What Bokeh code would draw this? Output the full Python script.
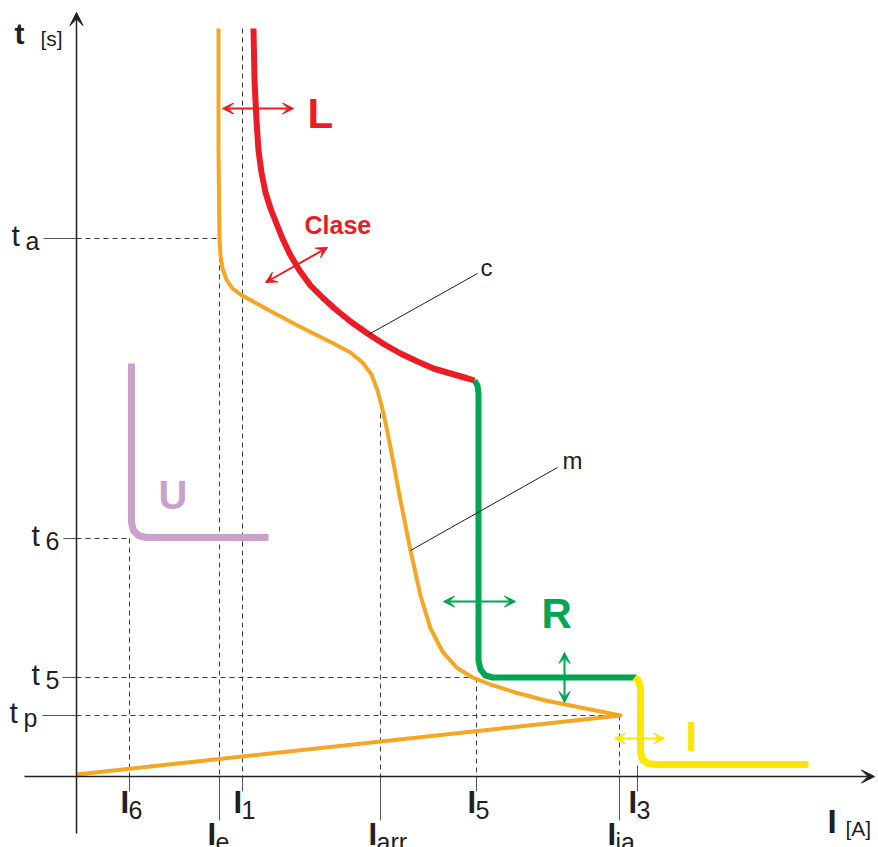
from bokeh.plotting import figure
from bokeh.models import Range1d, Arrow, VeeHead
from bokeh.core.properties import value
from bokeh.embed import file_html
from bokeh.resources import INLINE

# ---------------- data (schematic I-t plane, y grows downward) ----------------
x_tick_sub = ["6", "e", "1", "arr", "5", "ia", "3"]
x_tick_vals = [129, 219, 242, 380, 476, 619, 637]
x_tick_long = [False, True, False, True, False, True, False]

y_tick_sub = ["a", "6", "5", "p"]
y_tick_vals = [238, 538, 677, 715]

# motor starting curve "m"
m_x = [218, 218, 219, 220, 222, 226, 232, 240, 267, 299, 333, 350, 362, 371, 377,
       381, 385, 390, 400, 410, 420, 430, 442, 456, 472, 490, 515, 545, 580, 620, 76]
m_y = [28, 150, 238, 255, 268, 279, 288, 294, 309, 326, 343, 352, 362, 374, 390,
       405, 422, 447, 500, 550, 595, 628, 651, 667, 677, 684, 692, 700, 707, 715, 774]

# protection curve: L (long delay, red), R (short delay, green), I (instantaneous, yellow)
L_x = [253, 254, 256, 258, 261, 265, 270, 276, 282, 289, 299, 310, 322, 334, 350,
       367, 384, 400, 417, 433, 450, 464, 474]
L_y = [28, 80, 120, 150, 172, 192, 208, 223, 238, 253, 270, 285, 297, 308, 321,
       333, 344, 353, 361, 368, 373, 377, 380]
R_x = [474, 477, 478, 478, 480, 485, 492, 636]
R_y = [380, 385, 393, 660, 669, 675, 677, 677]
I_x = [634, 638, 640, 640, 642, 647, 655, 808]
I_y = [677, 680, 688, 752, 759, 763, 764, 764]
# undervoltage "U"
U_x = [131, 131, 133, 138, 146, 268]
U_y = [363, 522, 530, 535, 537, 537]

# ---------------- figure ----------------
FONT = "Liberation Sans"
p = figure(width=878, height=847, x_range=Range1d(0, 878), y_range=Range1d(847, 0),
           output_backend="svg", toolbar_location=None,
           x_axis_location=None, y_axis_location=None, min_border=0)
p.grid.visible = False
p.outline_line_color = None
p.background_fill_color = "white"
p.border_fill_color = "white"

ORIGIN_X, ORIGIN_Y = 76, 776
TOP_Y = 28
DASH = "5 4"
GUIDE = "#3a3a3a"
TICK = "#555555"

def ix(name):
    return x_tick_vals[x_tick_sub.index(name)]

def iy(name):
    return y_tick_vals[y_tick_sub.index(name)]

# dashed guide lines
hx0 = [ORIGIN_X] * 4
hx1 = [ix("e"), ix("6"), ix("5"), ix("ia")]
hy = [iy("a"), iy("6"), iy("5"), iy("p")]
p.segment(x0=hx0, y0=hy, x1=hx1, y1=hy, line_color=GUIDE, line_width=1, line_dash=DASH)

vx = [ix("6"), ix("e"), ix("1"), ix("arr"), ix("5"), ix("ia")]
vy0 = [iy("6"), iy("a"), TOP_Y, 413, iy("5"), iy("p")]
p.segment(x0=vx, y0=vy0, x1=vx, y1=[ORIGIN_Y] * 6, line_color=GUIDE, line_width=1, line_dash=DASH)

# y ticks (solid, left of axis)
y_tick_left = {"a": 43, "6": 63, "5": 62, "p": 42}
p.segment(x0=[y_tick_left[s] for s in y_tick_sub], y0=y_tick_vals,
          x1=[ORIGIN_X] * 4, y1=y_tick_vals, line_color=TICK, line_width=1)

# x ticks (solid, below axis)
x_tick_top = [ORIGIN_Y if s != "3" else 765 for s in x_tick_sub]
x_tick_bot = [820 if lg else 791 for lg in x_tick_long]
p.segment(x0=x_tick_vals, y0=x_tick_top, x1=x_tick_vals, y1=x_tick_bot,
          line_color=TICK, line_width=1)

# curves
p.line(m_x, m_y, line_color="#F6A623", line_width=4, line_join="round")
p.line(L_x, L_y, line_color="#EC1C24", line_width=6, line_join="round")
p.line(R_x, R_y, line_color="#00A651", line_width=6, line_join="round")
p.line(I_x, I_y, line_color="#FFE600", line_width=7, line_join="round")
p.line(U_x, U_y, line_color="#C8A2CB", line_width=7, line_join="round")

# leader lines for c and m
p.segment(x0=[368, 410], y0=[334, 550], x1=[477, 557], y1=[273, 467],
          line_color="#231F20", line_width=1)

# axes with arrow heads
AX = "#231F20"
p.add_layout(Arrow(end=VeeHead(size=13, fill_color=AX, line_color=AX),
                   x_start=ORIGIN_X, y_start=833, x_end=ORIGIN_X, y_end=12,
                   line_color=AX, line_width=1.5))
p.add_layout(Arrow(end=VeeHead(size=13, fill_color=AX, line_color=AX),
                   x_start=24, y_start=ORIGIN_Y, x_end=874, y_end=ORIGIN_Y,
                   line_color=AX, line_width=1.5))

# double arrows
def darrow(x0, y0, x1, y1, color):
    p.add_layout(Arrow(start=VeeHead(size=11, fill_color=color, line_color=color),
                       end=VeeHead(size=11, fill_color=color, line_color=color),
                       x_start=x0, y_start=y0, x_end=x1, y_end=y1,
                       line_color=color, line_width=2))

darrow(222, 108, 293, 108, "#EC1C24")
darrow(265, 282, 327, 247, "#EC1C24")
darrow(443, 601, 515, 601, "#00A651")
darrow(564, 652, 564, 702, "#00A651")
darrow(614, 738, 664, 738, "#FFE600")

# text helper: y is the glyph baseline (corrected for the renderer's offset)
def txt(x, y, s, size, color="#231F20", bold=False):
    p.text(x=[x], y=[y - 0.34 * size], text=[s], text_font=value(FONT),
           text_font_size=value(f"{size}px"),
           text_font_style="bold" if bold else "normal", text_color=color,
           text_align="left", text_baseline="alphabetic")

# axis titles
txt(14, 43, "t", 30, bold=True)
txt(40, 45, "[s]", 21)
txt(827, 832, "I", 33, bold=True)
txt(845, 835, "[A]", 21)

# y tick labels
y_label_left = {"a": 11, "6": 31, "5": 31, "p": 9}
for s, v in zip(y_tick_sub, y_tick_vals):
    x0 = y_label_left[s]
    txt(x0, v + 7, "t", 30)
    txt(x0 + 14, v + 11, s, 25)

# x tick labels
for s, v, lg in zip(x_tick_sub, x_tick_vals, x_tick_long):
    base = 845 if lg else 813
    left = v - (12 if lg else 9)
    txt(left, base, "I", 31, bold=True)
    txt(left + 8, base + 5, s, 25)

# curve names
txt(307, 127, "L", 42, color="#EC1C24", bold=True)
txt(304, 233, "Clase", 25, color="#EC1C24", bold=True)
txt(541, 627, "R", 42, color="#00A651", bold=True)
txt(685, 750, "I", 42, color="#FFE600", bold=True)
txt(158, 508, "U", 40, color="#C8A2CB", bold=True)
txt(480, 275, "c", 24)
txt(562, 468, "m", 24)

open("out.html", "w").write(file_html(p, INLINE))
